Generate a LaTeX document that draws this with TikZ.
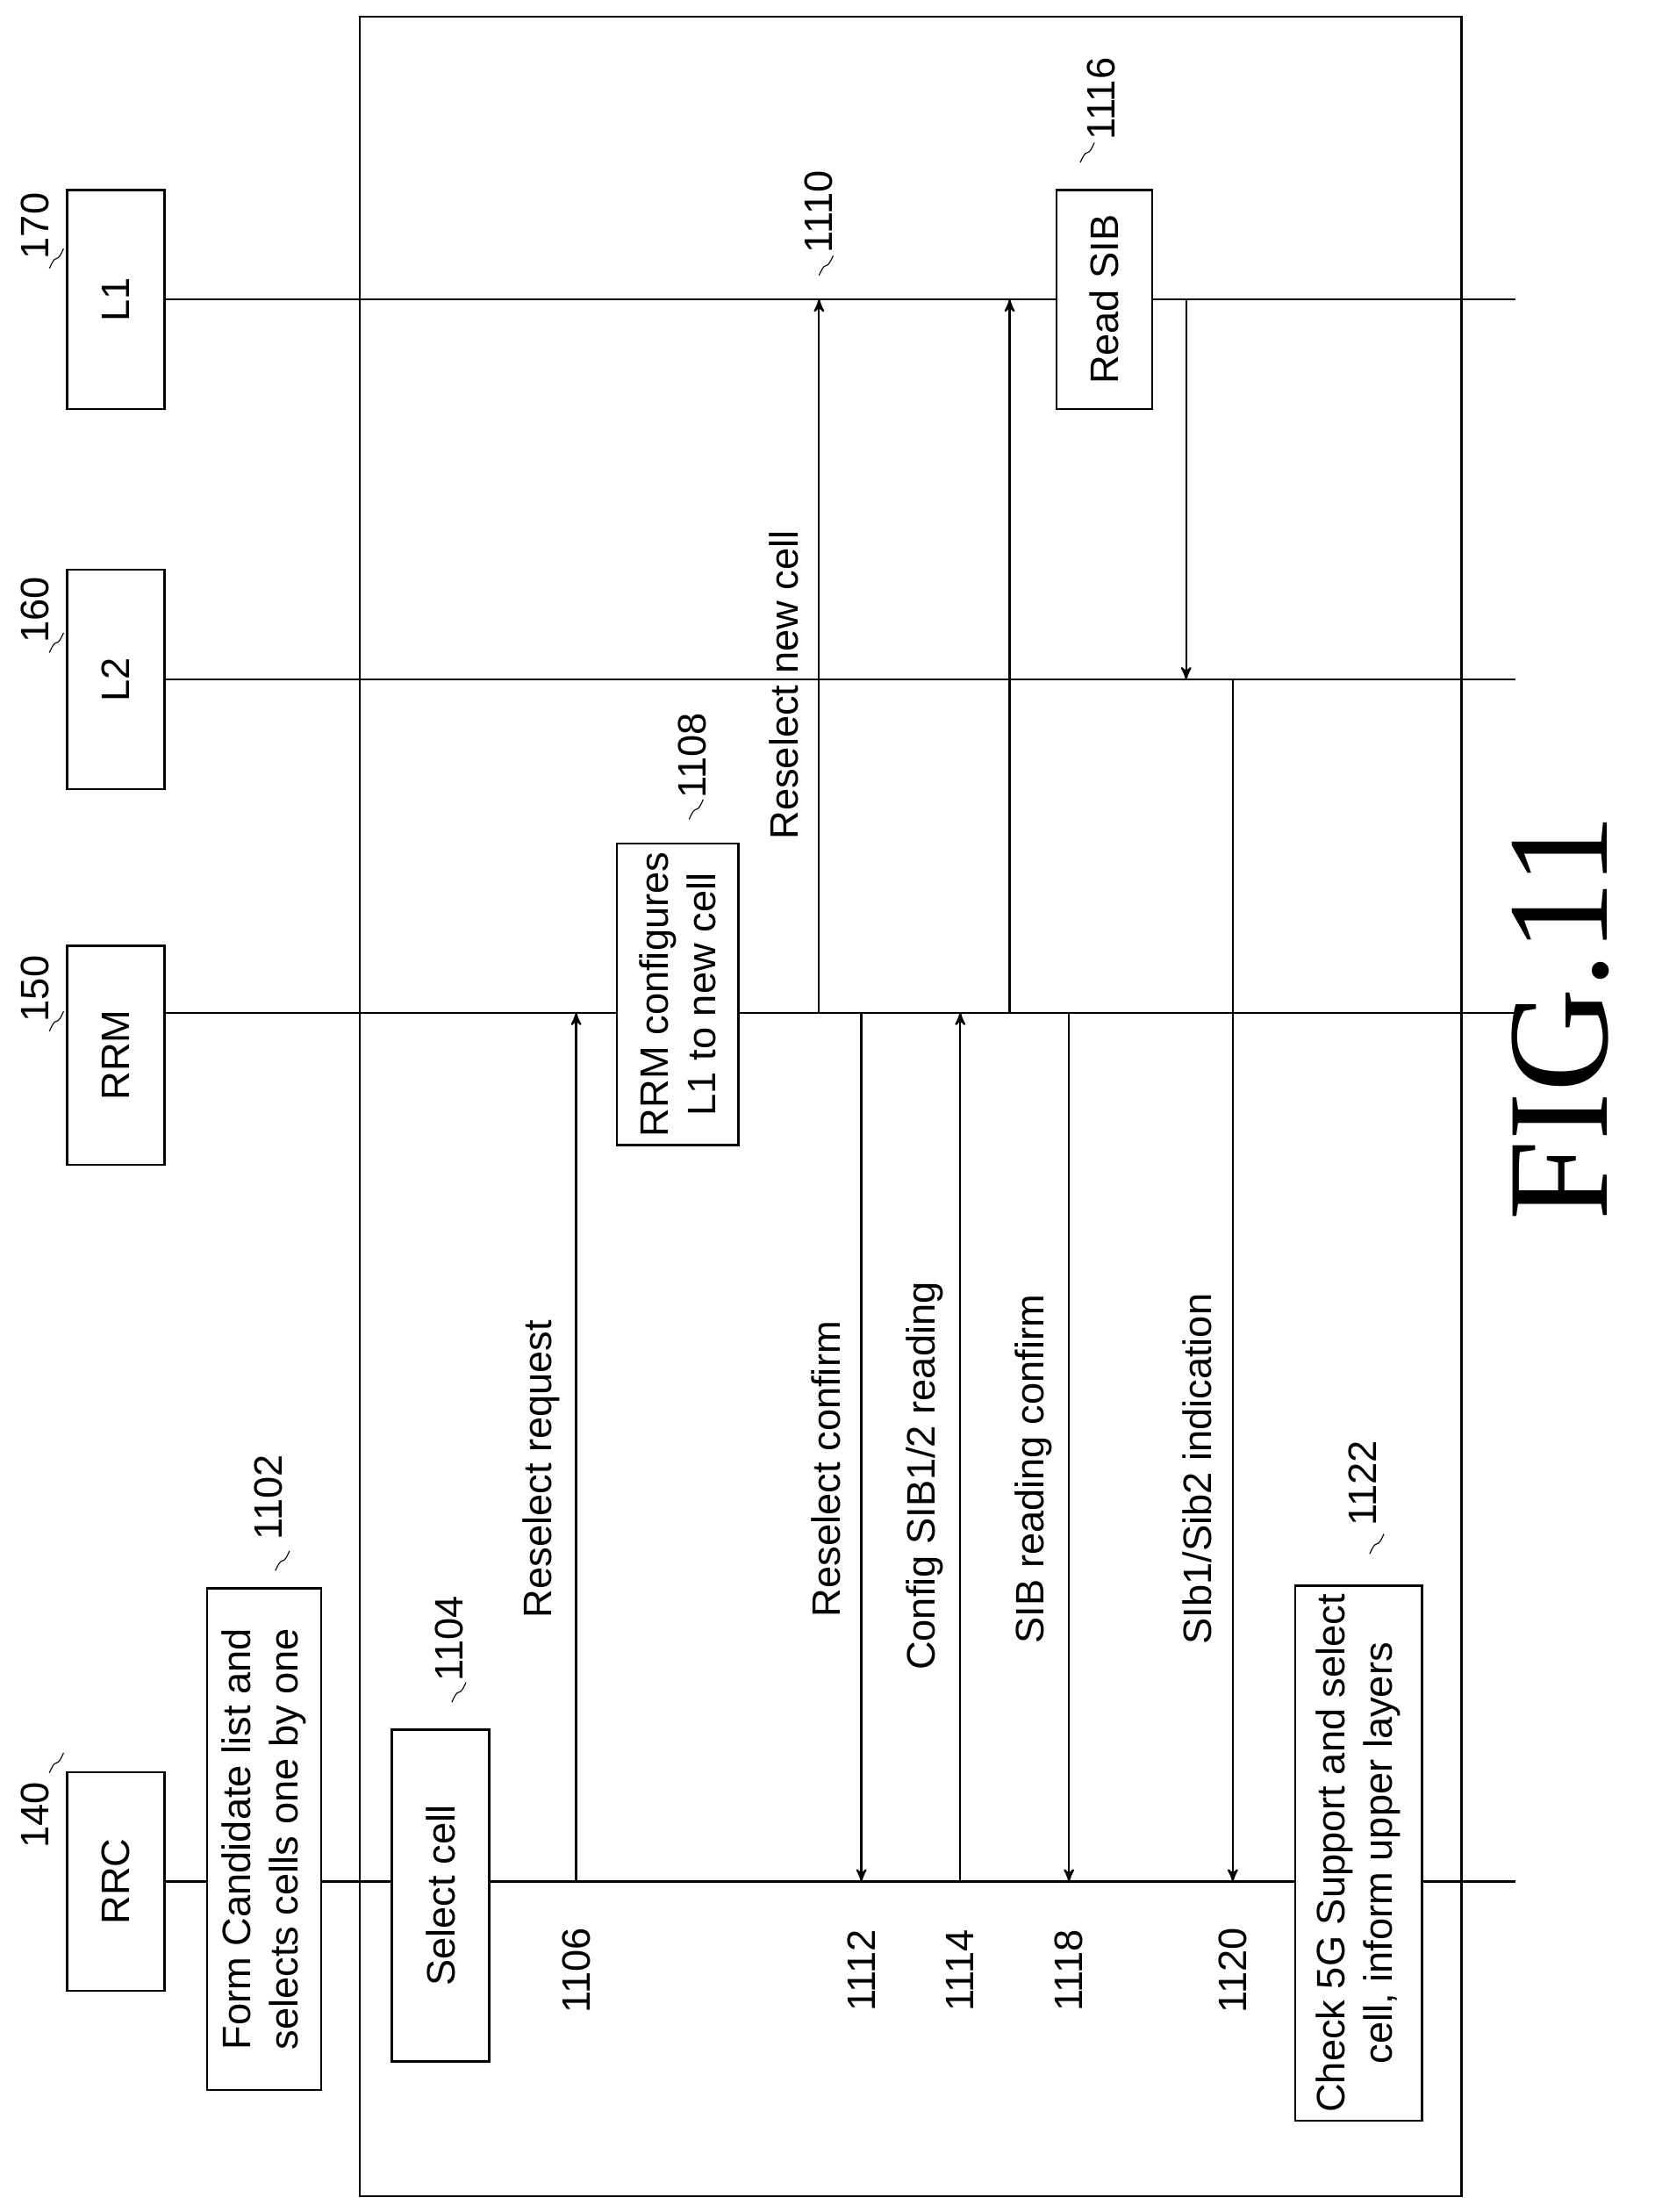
\documentclass[tikz,border=0pt]{standalone}
\usepackage{fontspec}
\setmainfont{Liberation Sans}
\newfontfamily\figfont{Liberation Serif}
\usetikzlibrary{positioning, arrows}
\tikzset{>=stealth,
  blk/.style={draw, thick, fill=white, align=center, rotate=90, font=\fontsize{16}{19}\selectfont},
  txt/.style={rotate=90, font=\fontsize{16}{19}\selectfont},
  msg/.style={thick, ->, >=stealth'},
  tld/.style={thin},
}
\newcommand{\squig}[1]{\draw[tld] (#1) sin ++(5,-7) cos ++(5,-7);}

\begin{document}
\begin{tikzpicture}[x=0.02cm, y=-0.02cm]
    \useasboundingbox (0,0) rectangle (1172,1566);
    \draw[thick] (255,12) rectangle (1035,1555);
    % lifelines
    \foreach \n/\y in {lone/212, ltwo/481, rrm/717, rrc/1332}{
        \draw[thick] (117,\y) -- (1073,\y);
    }
    \node[blk, minimum width=3.1cm, minimum height=1.38cm] (L1) at (82,212) {L1};
    \node[blk, minimum width=3.1cm, minimum height=1.38cm] (L2) at (82,481) {L2};
    \node[blk, minimum width=3.1cm, minimum height=1.38cm] (RRM) at (82,747) {RRM};
    \node[blk, minimum width=3.1cm, minimum height=1.38cm] (RRC) at (82,1332) {RRC};
    \node[txt] (n170) at (25,160) {170}; \squig{35,190}
    \node[txt] (n160) at (25,432) {160}; \squig{35,462}
    \node[txt] (n150) at (25,700) {150}; \squig{35,730}
    \node[txt] (n140) at (25,1285) {140}; \squig{35,1255}
    % process boxes
    \node[blk, minimum width=7.1cm, minimum height=1.62cm] (cand) at (187,1302) {Form Candidate list and\\selects cells one by one};
    \node[txt] (n1102) at (190,1060) {1102}; \squig{195,1112}
    \node[blk, minimum width=4.7cm, minimum height=1.38cm] (sel) at (312,1342) {Select cell};
    \node[txt] (n1104) at (318,1160) {1104}; \squig{320,1205}
    \node[blk, minimum width=4.16cm, minimum height=1.72cm] (rrmc) at (480,704) {RRM configures\\L1 to new cell};
    \node[txt] (n1108) at (490,535) {1108}; \squig{488,580}
    \node[blk, minimum width=3.1cm, minimum height=1.36cm] (rsib) at (782,212) {Read SIB};
    \node[txt] (n1116) at (780,70) {1116}; \squig{765,115}
    \node[blk, minimum width=6.7cm, minimum height=1.8cm] (chk) at (962,1312) {Check 5G Support and select\\cell, inform upper layers};
    \node[txt] (n1122) at (965,1050) {1122}; \squig{970,1100}
    % messages
    \coordinate (a1) at (408,1332); \coordinate (b1) at (408,717);
    \draw[msg] (a1) -- (b1);
    \node[txt] at (383,1040) {Reselect request};
    \node[txt] at (408,1395) {1106};
    \coordinate (a2) at (580,717); \coordinate (b2) at (580,212);
    \draw[msg] (a2) -- (b2);
    \node[txt] at (555,485) {Reselect new cell};
    \node[txt] (n1110) at (580,150) {1110}; \squig{580,195}
    \coordinate (a3) at (610,717); \coordinate (b3) at (610,1332);
    \draw[msg] (a3) -- (b3);
    \node[txt] at (585,1040) {Reselect confirm};
    \node[txt] at (610,1395) {1112};
    \coordinate (a4) at (680,1332); \coordinate (b4) at (680,717);
    \draw[msg] (a4) -- (b4);
    \node[txt] at (655,1045) {Config SIB1/2 reading};
    \node[txt] at (680,1395) {1114};
    \coordinate (a5) at (715,717); \coordinate (b5) at (715,212);
    \draw[msg] (a5) -- (b5);
    \coordinate (a6) at (757,717); \coordinate (b6) at (757,1332);
    \draw[msg] (a6) -- (b6);
    \node[txt] at (732,1040) {SIB reading confirm};
    \node[txt] at (757,1395) {1118};
    \coordinate (a7) at (840,212); \coordinate (b7) at (840,481);
    \draw[msg] (a7) -- (b7);
    \coordinate (a8) at (873,481); \coordinate (b8) at (873,1332);
    \draw[msg] (a8) -- (b8);
    \node[txt] at (848,1040) {SIb1/Sib2 indication};
    \node[txt] at (873,1395) {1120};
    \node[rotate=90, font=\figfont\fontsize{58}{60}\selectfont] (fig) at (1105,720) {FIG.11};
\end{tikzpicture}
\end{document}
